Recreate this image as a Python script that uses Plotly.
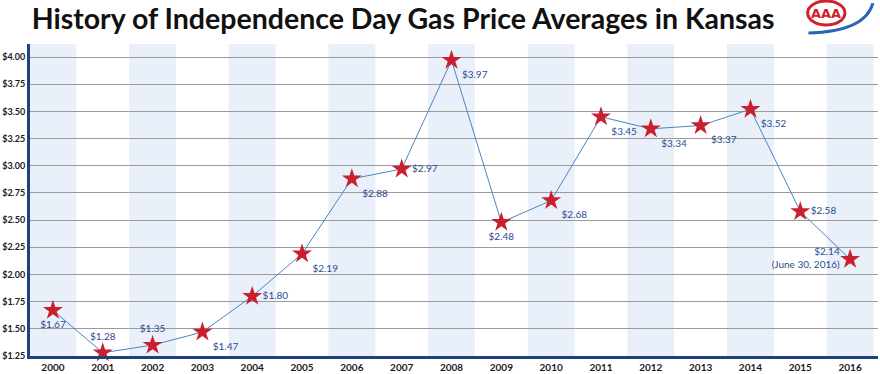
import plotly.graph_objects as go

years = list(range(2000, 2017))
prices = [1.67, 1.28, 1.35, 1.47, 1.80, 2.19, 2.88, 2.97, 3.97, 2.48, 2.68, 3.45, 3.34, 3.37, 3.52, 2.58, 2.14]
price_labels = ["$1.67", "$1.28", "$1.35", "$1.47", "$1.80", "$2.19", "$2.88", "$2.97", "$3.97",
                "$2.48", "$2.68", "$3.45", "$3.34", "$3.37", "$3.52", "$2.58", "$2.14<br>(June 30, 2016)"]
label_pos = ["bottom center", "top center", "top center", "bottom right", "middle right",
             "bottom right", "bottom right", "middle right", "bottom right", "bottom center",
             "bottom right", "bottom right", "bottom right", "bottom right", "bottom right",
             "middle right", "middle left"]
y_ticks = [1.25, 1.50, 1.75, 2.00, 2.25, 2.50, 2.75, 3.00, 3.25, 3.50, 3.75, 4.00]
y_tick_labels = ["$%.2f" % v for v in y_ticks]
title = "History of Independence Day Gas Price Averages in Kansas"

FONT = "Lato, 'Open Sans', sans-serif"
LABEL_BLUE = "#2c4b8e"
RED = "#d3202f"

fig = go.Figure()

fig.add_trace(go.Scatter(
    x=years, y=prices, mode="lines+markers+text",
    text=price_labels, textposition=label_pos,
    textfont=dict(family=FONT, size=10, color=LABEL_BLUE),
    line=dict(color="#4a86c6", width=1),
    marker=dict(symbol="star", size=15, color="#c8202f", line=dict(width=0)),
    cliponaxis=False, hoverinfo="skip", showlegend=False,
))

shapes = []
for yr in years[::2]:
    shapes.append(dict(type="rect", xref="x", yref="paper", x0=yr - 0.47, x1=yr + 0.47,
                       y0=0, y1=1, fillcolor="#e9f0f9", line=dict(width=0), layer="below"))
# AAA logo: swoosh and oval
shapes.append(dict(type="path", xref="paper", yref="paper", layer="above",
                   path="M 0.918 1.035 Q 0.985 1.04 0.994 1.131",
                   line=dict(color="#2a66b3", width=3)))
shapes.append(dict(type="circle", xref="paper", yref="paper", layer="above",
                   x0=0.917, x1=0.961, y0=1.061, y1=1.138,
                   fillcolor="white", line=dict(color=RED, width=3)))
fig.update_layout(shapes=shapes)

fig.update_layout(
    width=880, height=374,
    margin=dict(l=30, r=2, t=44, b=18),
    paper_bgcolor="white", plot_bgcolor="white",
    font=dict(family=FONT),
    title=dict(text="<b>" + title + "</b>", x=0.036, xanchor="left", y=0.948, yanchor="middle",
               font=dict(family=FONT, size=28.5, color="#111111")),
    xaxis=dict(range=[1999.54, 2016.56], tickmode="array", tickvals=years,
               ticktext=["<b>%d</b>" % y for y in years], showgrid=False, zeroline=False,
               showline=True, linecolor="#22407f", linewidth=3, ticks="",
               tickfont=dict(family=FONT, size=10, color="#1a1a1a"), fixedrange=True),
    yaxis=dict(range=[1.25, 4.12], tickmode="array", tickvals=y_ticks,
               ticktext=["<b>" + t + "</b>" for t in y_tick_labels], showgrid=True,
               gridcolor="#9a9a9a", gridwidth=1, zeroline=False,
               showline=True, linecolor="#22407f", linewidth=3, ticks="",
               tickfont=dict(family=FONT, size=9, color="#1a1a1a"), fixedrange=True),
)

fig.add_annotation(xref="paper", yref="paper", x=0.939, y=1.099, xanchor="center", yanchor="middle",
                   text="<b>AAA</b>", showarrow=False,
                   font=dict(family="'DejaVu Sans', sans-serif", size=13, color=RED))

fig.write_html("out.html", config={"displayModeBar": False},
               post_script="document.body.style.margin='0';")
